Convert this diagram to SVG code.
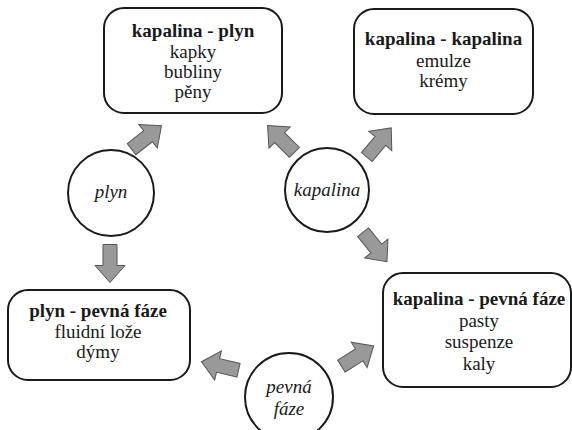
<svg xmlns="http://www.w3.org/2000/svg" width="572" height="430" viewBox="0 0 572 430">
<style>
.box{fill:#fff;stroke:#1a1a1a;stroke-width:2}
.circ{fill:#fff;stroke:#1a1a1a;stroke-width:2}
.arr{fill:#999;stroke:#555;stroke-width:1}
</style>
<defs>
<polygon id="ar" points="-19,-7 2,-7 2,-15 19,0 2,15 2,7 -19,7"/>
</defs>
<rect x="0" y="0" width="572" height="430" fill="#fff"/>
<g id="n-kapalina-plyn">
<rect class="box" x="104" y="8" width="178" height="105" rx="20"/>
<text font-family="Liberation Serif, Times New Roman, serif" font-size="19" fill="#1a1a1a" text-anchor="middle" font-weight="bold" x="193" y="37">kapalina - plyn</text>
<text font-family="Liberation Serif, Times New Roman, serif" font-size="19" fill="#1a1a1a" text-anchor="middle" x="193" y="58">kapky</text>
<text font-family="Liberation Serif, Times New Roman, serif" font-size="19" fill="#1a1a1a" text-anchor="middle" x="193" y="78">bubliny</text>
<text font-family="Liberation Serif, Times New Roman, serif" font-size="19" fill="#1a1a1a" text-anchor="middle" x="193" y="98">pěny</text>
</g>
<g id="n-kapalina-kapalina">
<rect class="box" x="354" y="9" width="179" height="105" rx="20"/>
<text font-family="Liberation Serif, Times New Roman, serif" font-size="19" fill="#1a1a1a" text-anchor="middle" font-weight="bold" x="443.5" y="45">kapalina - kapalina</text>
<text font-family="Liberation Serif, Times New Roman, serif" font-size="19" fill="#1a1a1a" text-anchor="middle" x="443.5" y="67">emulze</text>
<text font-family="Liberation Serif, Times New Roman, serif" font-size="19" fill="#1a1a1a" text-anchor="middle" x="443.5" y="87">krémy</text>
</g>
<g id="n-plyn-pevna">
<rect class="box" x="8" y="290" width="182" height="90" rx="20"/>
<text font-family="Liberation Serif, Times New Roman, serif" font-size="19" fill="#1a1a1a" text-anchor="middle" font-weight="bold" x="98" y="317">plyn - pevná fáze</text>
<text font-family="Liberation Serif, Times New Roman, serif" font-size="19" fill="#1a1a1a" text-anchor="middle" x="98" y="338">fluidní lože</text>
<text font-family="Liberation Serif, Times New Roman, serif" font-size="19" fill="#1a1a1a" text-anchor="middle" x="98" y="358">dýmy</text>
</g>
<g id="n-kapalina-pevna">
<rect class="box" x="383" y="273" width="188" height="114" rx="20"/>
<text font-family="Liberation Serif, Times New Roman, serif" font-size="19" fill="#1a1a1a" text-anchor="middle" font-weight="bold" x="479" y="305">kapalina - pevná fáze</text>
<text font-family="Liberation Serif, Times New Roman, serif" font-size="19" fill="#1a1a1a" text-anchor="middle" x="479" y="327">pasty</text>
<text font-family="Liberation Serif, Times New Roman, serif" font-size="19" fill="#1a1a1a" text-anchor="middle" x="479" y="348">suspenze</text>
<text font-family="Liberation Serif, Times New Roman, serif" font-size="19" fill="#1a1a1a" text-anchor="middle" x="479" y="370">kaly</text>
</g>
<g id="n-plyn">
<circle class="circ" cx="111" cy="193" r="43"/>
<text font-family="Liberation Serif, Times New Roman, serif" font-size="19" fill="#1a1a1a" text-anchor="middle" font-style="italic" x="111" y="198">plyn</text>
</g>
<g id="n-kapalina">
<circle class="circ" cx="327" cy="190" r="42"/>
<text font-family="Liberation Serif, Times New Roman, serif" font-size="19" fill="#1a1a1a" text-anchor="middle" font-style="italic" x="327" y="196">kapalina</text>
</g>
<g id="n-pevna">
<circle class="circ" cx="289" cy="397" r="44"/>
<text font-family="Liberation Serif, Times New Roman, serif" font-size="19" fill="#1a1a1a" text-anchor="middle" font-style="italic" x="289" y="393">pevná</text>
<text font-family="Liberation Serif, Times New Roman, serif" font-size="19" fill="#1a1a1a" text-anchor="middle" font-style="italic" x="289" y="415">fáze</text>
</g>
<g id="connectors">
<use href="#ar" class="arr" transform="translate(146.5,137.5) rotate(-38)"/>
<use href="#ar" class="arr" transform="translate(110,263.5) rotate(90)"/>
<use href="#ar" class="arr" transform="translate(281,139) rotate(-135)"/>
<use href="#ar" class="arr" transform="translate(379,142.5) rotate(-50)"/>
<use href="#ar" class="arr" transform="translate(375,247) rotate(51)"/>
<use href="#ar" class="arr" transform="translate(220,366) rotate(-167)"/>
<use href="#ar" class="arr" transform="translate(357.5,356) rotate(-32)"/>
</g>
</svg>
